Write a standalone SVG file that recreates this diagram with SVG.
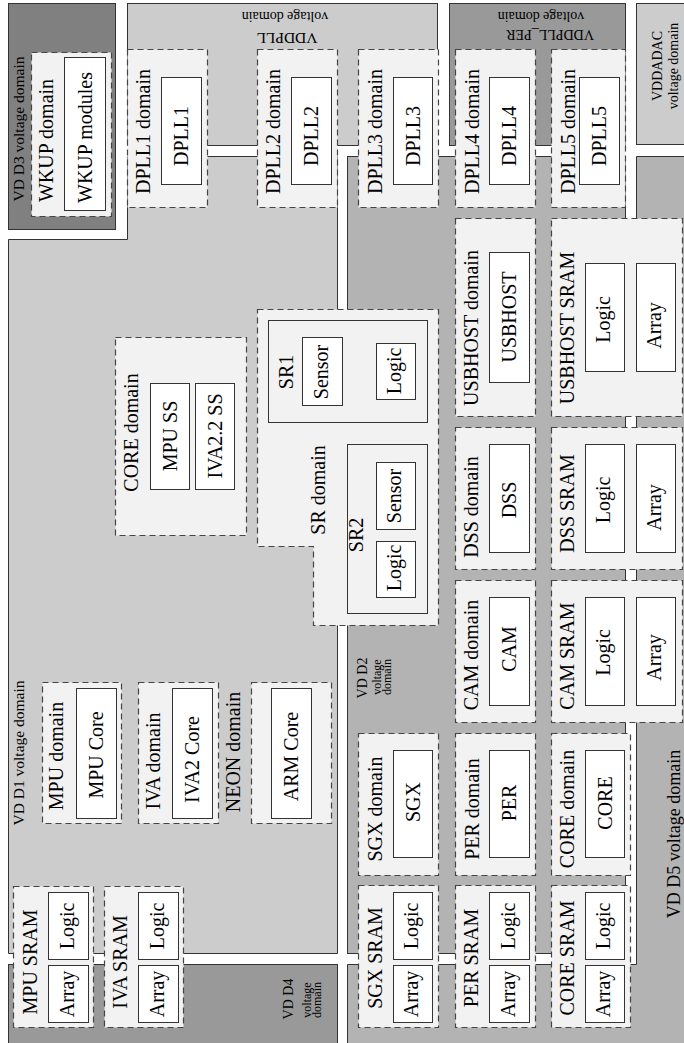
<svg xmlns="http://www.w3.org/2000/svg" width="684" height="1043" viewBox="0 0 684 1043">
<style>
text{font-family:"Liberation Serif","Times New Roman",serif;fill:#000;text-anchor:middle}
.t{font-size:20px}
.s{font-size:15.5px}
.m{font-size:14px}
.sm{font-size:12px}
.vd{stroke:#333;stroke-width:1}
.d3{fill:#808080}
.lt{fill:#cccccc}
.dk{fill:#999999}
.md{fill:#b3b3b3}
.dom{fill:#f2f2f2;stroke:#444;stroke-width:1.2;stroke-dasharray:6,4}
.box{fill:#fff;stroke:#333;stroke-width:1}
.sr{fill:#f2f2f2;stroke:#333;stroke-width:1}
</style>
<rect width="684" height="1043" fill="#fff"/>
<g id="voltage-domains">
  <g id="vd-d3"><rect class="vd d3" x="8.5" y="3.5" width="107" height="226"/>
    <text class="s" transform="translate(24,129) rotate(-90)">VD D3 voltage domain</text></g>
  <g id="vddpll"><rect class="vd lt" x="127.5" y="3.5" width="310" height="142"/>
    <text class="s" transform="translate(287,33) rotate(180)">VDDPLL</text>
    <text class="m" transform="translate(285,12) rotate(180)">voltage domain</text></g>
  <g id="vddpll-per"><rect class="vd dk" x="449.5" y="3.5" width="176" height="142"/>
    <text class="m" transform="translate(550,30) rotate(180)">VDDPLL_PER</text>
    <text class="m" transform="translate(541,12) rotate(180)">voltage domain</text></g>
  <g id="vddadac"><rect class="vd lt" x="636.5" y="3.5" width="60" height="141"/>
    <text class="m" transform="translate(662,66) rotate(-90)">VDDADAC</text>
    <text class="m" transform="translate(678,66) rotate(-90)">voltage domain</text></g>
  <g id="vd-d1"><path class="vd lt" d="M8.5,239.5 H127.5 V156.5 H337.5 V953.5 H8.5 Z"/>
    <text class="s" transform="translate(24,753) rotate(-90)">VD D1 voltage domain</text></g>
  <g id="vd-d2"><rect class="vd md" x="347.5" y="156.5" width="278" height="797"/>
    <text class="m" transform="translate(367,678) rotate(-90)">VD D2</text>
    <text class="sm" transform="translate(381,677) rotate(-90)">voltage</text>
    <text class="sm" transform="translate(391,677) rotate(-90)">domain</text></g>
  <g id="vd-d5"><path class="vd md" d="M636.5,156.5 H700 V1050 H347.5 V964.5 H636.5 Z"/>
    <text transform="translate(680,834) rotate(-90)" style="font-size:18px">VD D5 voltage domain</text></g>
  <g id="vd-d4"><rect class="vd dk" x="8.5" y="964.5" width="329" height="90"/>
    <text class="m" transform="translate(293,999) rotate(-90)">VD D4</text>
    <text class="sm" transform="translate(311,1000) rotate(-90)">voltage</text>
    <text class="sm" transform="translate(321,1000) rotate(-90)">domain</text></g>
</g>
<g id="power-domains">
  <g id="wkup"><rect class="dom" x="31.5" y="52.5" width="80" height="164"/>
    <text class="t" transform="translate(53,140.5) rotate(-90)">WKUP domain</text>
    <rect class="box" x="64.5" y="57.5" width="41" height="153"/>
    <text class="t" transform="translate(91.5,137.5) rotate(-90)">WKUP modules</text></g>
  <g id="dpll1"><rect class="dom" x="127.5" y="49.5" width="80" height="158"/>
    <text class="t" transform="translate(150,131.5) rotate(-90)">DPLL1 domain</text>
    <rect class="box" x="161.5" y="77.5" width="40" height="107"/>
    <text class="t" transform="translate(188,136) rotate(-90)">DPLL1</text></g>
  <g id="dpll2"><rect class="dom" x="257.5" y="49.5" width="80" height="158"/>
    <text class="t" transform="translate(280,131.5) rotate(-90)">DPLL2 domain</text>
    <rect class="box" x="291.5" y="77.5" width="40" height="107"/>
    <text class="t" transform="translate(318,136) rotate(-90)">DPLL2</text></g>
  <g id="dpll3"><rect class="dom" x="358.5" y="49.5" width="80" height="158"/>
    <text class="t" transform="translate(381.5,131.5) rotate(-90)">DPLL3 domain</text>
    <rect class="box" x="393.5" y="77.5" width="39" height="107"/>
    <text class="t" transform="translate(419.5,136) rotate(-90)">DPLL3</text></g>
  <g id="dpll4"><rect class="dom" x="455.5" y="49.5" width="80" height="158"/>
    <text class="t" transform="translate(478.5,131.5) rotate(-90)">DPLL4 domain</text>
    <rect class="box" x="489.5" y="77.5" width="40" height="107"/>
    <text class="t" transform="translate(516,136) rotate(-90)">DPLL4</text></g>
  <g id="dpll5"><rect class="dom" x="551.5" y="49.5" width="74" height="158"/>
    <text class="t" transform="translate(574.5,131.5) rotate(-90)">DPLL5 domain</text>
    <rect class="box" x="579.5" y="77.5" width="40" height="107"/>
    <text class="t" transform="translate(606,136) rotate(-90)">DPLL5</text></g>

  <g id="core-d1"><rect class="dom" x="115.5" y="337.5" width="131" height="198"/>
    <text class="t" transform="translate(138,432.5) rotate(-90)">CORE domain</text>
    <rect class="box" x="150.5" y="383.5" width="39" height="106"/>
    <text class="t" transform="translate(176.5,436) rotate(-90)">MPU SS</text>
    <rect class="box" x="195.5" y="383.5" width="39" height="106"/>
    <text class="t" transform="translate(221.5,436) rotate(-90)">IVA2.2 SS</text></g>

  <g id="sr"><path class="dom" d="M257.5,309.5 H438.5 V625.5 H313.5 V546.5 H257.5 Z"/>
    <text class="t" transform="translate(325,490) rotate(-90)">SR domain</text>
    <g id="sr1"><rect class="sr" x="268.5" y="320.5" width="159" height="102"/>
      <text class="t" transform="translate(293,372) rotate(-90)">SR1</text>
      <rect class="box" x="302.5" y="337.5" width="40" height="68"/>
      <text class="t" transform="translate(328,372) rotate(-90)">Sensor</text>
      <rect class="box" x="376.5" y="343.5" width="39" height="56"/>
      <text class="t" transform="translate(401,371) rotate(-90)">Logic</text></g>
    <g id="sr2"><rect class="sr" x="347.5" y="444.5" width="80" height="169"/>
      <text class="t" transform="translate(363,535) rotate(-90)">SR2</text>
      <rect class="box" x="376.5" y="462.5" width="39" height="67"/>
      <text class="t" transform="translate(401,496) rotate(-90)">Sensor</text>
      <rect class="box" x="376.5" y="541.5" width="39" height="56"/>
      <text class="t" transform="translate(401,568) rotate(-90)">Logic</text></g></g>

  <g id="usbhost"><rect class="dom" x="455.5" y="218.5" width="80" height="198"/>
    <text class="t" transform="translate(477.5,328) rotate(-90)">USBHOST domain</text>
    <rect class="box" x="489.5" y="252.5" width="40" height="130"/>
    <text class="t" transform="translate(516,317) rotate(-90)">USBHOST</text></g>
  <g id="usbhost-sram"><rect class="dom" x="551.5" y="218.5" width="131" height="198"/>
    <text class="t" transform="translate(573.5,328) rotate(-90)">USBHOST SRAM</text>
    <rect class="box" x="585.5" y="263.5" width="39" height="108"/>
    <text class="t" transform="translate(610,319.5) rotate(-90)">Logic</text>
    <rect class="box" x="636.5" y="263.5" width="39" height="108"/>
    <text class="t" transform="translate(661,325.5) rotate(-90)">Array</text></g>
  <g id="dss"><rect class="dom" x="455.5" y="427.5" width="80" height="142"/>
    <text class="t" transform="translate(477.5,507) rotate(-90)">DSS domain</text>
    <rect class="box" x="489.5" y="444.5" width="40" height="108"/>
    <text class="t" transform="translate(516,500) rotate(-90)">DSS</text></g>
  <g id="dss-sram"><rect class="dom" x="551.5" y="427.5" width="131" height="142"/>
    <text class="t" transform="translate(573.5,503.5) rotate(-90)">DSS SRAM</text>
    <rect class="box" x="585.5" y="444.5" width="39" height="108"/>
    <text class="t" transform="translate(610,500) rotate(-90)">Logic</text>
    <rect class="box" x="636.5" y="444.5" width="39" height="108"/>
    <text class="t" transform="translate(661,507.5) rotate(-90)">Array</text></g>
  <g id="cam"><rect class="dom" x="455.5" y="580.5" width="80" height="142"/>
    <text class="t" transform="translate(477.5,655) rotate(-90)">CAM domain</text>
    <rect class="box" x="489.5" y="597.5" width="40" height="108"/>
    <text class="t" transform="translate(516,649) rotate(-90)">CAM</text></g>
  <g id="cam-sram"><rect class="dom" x="551.5" y="580.5" width="131" height="142"/>
    <text class="t" transform="translate(573.5,656) rotate(-90)">CAM SRAM</text>
    <rect class="box" x="585.5" y="597.5" width="39" height="108"/>
    <text class="t" transform="translate(610,652.5) rotate(-90)">Logic</text>
    <rect class="box" x="636.5" y="597.5" width="39" height="108"/>
    <text class="t" transform="translate(661,657.5) rotate(-90)">Array</text></g>

  <g id="sgx"><rect class="dom" x="358.5" y="733.5" width="80" height="142"/>
    <text class="t" transform="translate(381.5,809) rotate(-90)">SGX domain</text>
    <rect class="box" x="393.5" y="750.5" width="39" height="107"/>
    <text class="t" transform="translate(419.5,802) rotate(-90)">SGX</text></g>
  <g id="per"><rect class="dom" x="455.5" y="733.5" width="80" height="142"/>
    <text class="t" transform="translate(478.5,809) rotate(-90)">PER domain</text>
    <rect class="box" x="489.5" y="750.5" width="40" height="107"/>
    <text class="t" transform="translate(516,803) rotate(-90)">PER</text></g>
  <g id="core-d2"><rect class="dom" x="551.5" y="733.5" width="79" height="142"/>
    <text class="t" transform="translate(574,809) rotate(-90)">CORE domain</text>
    <rect class="box" x="585.5" y="750.5" width="39" height="107"/>
    <text class="t" transform="translate(611.5,803) rotate(-90)">CORE</text></g>

  <g id="sgx-sram"><rect class="dom" x="358.5" y="885.5" width="80" height="142"/>
    <text class="t" transform="translate(381.5,958) rotate(-90)">SGX SRAM</text>
    <rect class="box" x="393.5" y="892.5" width="39" height="67"/>
    <text class="t" transform="translate(418,926) rotate(-90)">Logic</text>
    <rect class="box" x="393.5" y="965.5" width="39" height="57"/>
    <text class="t" transform="translate(418,994) rotate(-90)">Array</text></g>
  <g id="per-sram"><rect class="dom" x="455.5" y="885.5" width="80" height="142"/>
    <text class="t" transform="translate(478,958) rotate(-90)">PER SRAM</text>
    <rect class="box" x="489.5" y="892.5" width="40" height="67"/>
    <text class="t" transform="translate(514.5,926) rotate(-90)">Logic</text>
    <rect class="box" x="489.5" y="965.5" width="40" height="57"/>
    <text class="t" transform="translate(514.5,994) rotate(-90)">Array</text></g>
  <g id="core-sram"><rect class="dom" x="551.5" y="885.5" width="79" height="142"/>
    <text class="t" transform="translate(574,958) rotate(-90)">CORE SRAM</text>
    <rect class="box" x="585.5" y="892.5" width="39" height="67"/>
    <text class="t" transform="translate(610,926) rotate(-90)">Logic</text>
    <rect class="box" x="585.5" y="965.5" width="39" height="57"/>
    <text class="t" transform="translate(610,994) rotate(-90)">Array</text></g>

  <g id="mpu"><rect class="dom" x="42.5" y="682.5" width="79" height="141"/>
    <text class="t" transform="translate(63,756) rotate(-90)">MPU domain</text>
    <rect class="box" x="76.5" y="688.5" width="40" height="130"/>
    <text class="t" transform="translate(103,755) rotate(-90)">MPU Core</text></g>
  <g id="iva"><rect class="dom" x="138.5" y="682.5" width="80" height="141"/>
    <text class="t" transform="translate(160,761) rotate(-90)">IVA domain</text>
    <rect class="box" x="172.5" y="688.5" width="40" height="130"/>
    <text class="t" transform="translate(199,759.5) rotate(-90)">IVA2 Core</text></g>
  <g id="neon"><rect class="dom" x="251.5" y="682.5" width="80" height="141"/>
    <text class="t" transform="translate(240,752) rotate(-90)">NEON domain</text>
    <rect class="box" x="271.5" y="688.5" width="40" height="130"/>
    <text class="t" transform="translate(298,756.5) rotate(-90)">ARM Core</text></g>
  <g id="mpu-sram"><rect class="dom" x="13.5" y="886.5" width="80" height="141"/>
    <text class="t" transform="translate(37,962) rotate(-90)">MPU SRAM</text>
    <rect class="box" x="48.5" y="892.5" width="40" height="67"/>
    <text class="t" transform="translate(73.5,926) rotate(-90)">Logic</text>
    <rect class="box" x="48.5" y="965.5" width="40" height="57"/>
    <text class="t" transform="translate(73.5,994) rotate(-90)">Array</text></g>
  <g id="iva-sram"><rect class="dom" x="104.5" y="886.5" width="79" height="141"/>
    <text class="t" transform="translate(127,962) rotate(-90)">IVA SRAM</text>
    <rect class="box" x="138.5" y="892.5" width="40" height="67"/>
    <text class="t" transform="translate(163.5,926) rotate(-90)">Logic</text>
    <rect class="box" x="138.5" y="965.5" width="40" height="57"/>
    <text class="t" transform="translate(163.5,994) rotate(-90)">Array</text></g>
</g>
</svg>
